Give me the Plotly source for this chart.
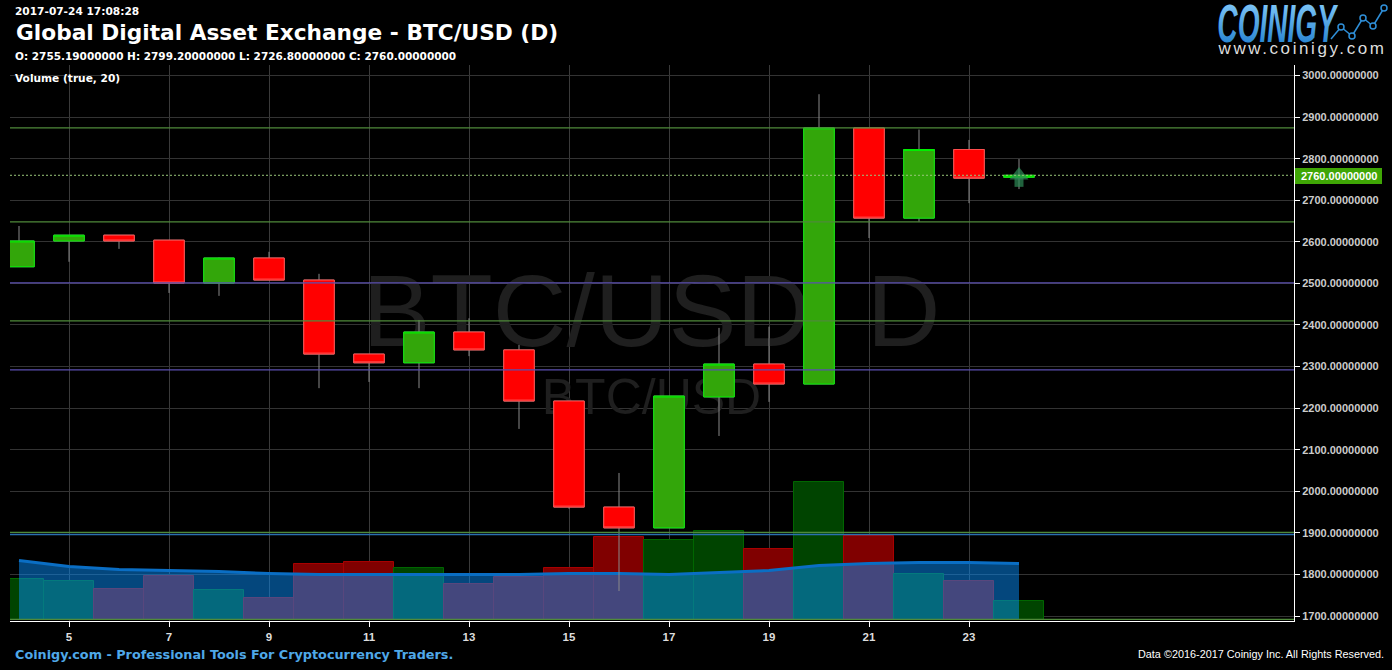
import plotly.graph_objects as go

days = list(range(4, 25))
opens = [2540, 2602, 2616, 2604, 2501, 2561, 2508, 2330, 2309, 2383, 2340, 2217, 1962, 1912, 2227, 2306, 2258, 2874, 2657, 2822, 2755.19]
closes = [2602, 2616, 2602, 2501, 2561, 2508, 2330, 2309, 2383, 2340, 2217, 1962, 1912, 2229, 2306, 2258, 2874, 2657, 2822, 2753, 2760.0]
highs = [2638, 2616, 2616, 2604, 2562, 2576, 2523, 2330, 2412, 2416, 2352, 2217, 2044, 2229, 2393, 2396, 2955, 2874, 2870, 2845, 2799.2]
lows = [2540, 2552, 2583, 2477, 2470, 2508, 2248, 2263, 2248, 2325, 2150, 1958, 1760, 1912, 2133, 2215, 2258, 2609, 2648, 2693, 2726.8]
volumes = [41, 39, 31, 44, 30, 22, 56, 58, 52, 36, 43, 52, 83, 80, 89, 71, 138, 84, 46, 39, 19]
volume_ma = [59, 53, 50, 49, 48, 46, 45, 45, 45, 45, 45, 46, 46, 45, 47, 49, 54, 56, 57, 57, 56]
green_levels = [2874, 2648, 2410, 1901, 1692]
purple_levels = [2501, 2292]
blue_levels = [1896]
last_price = 2760.0
x_ticks = list(range(5, 24, 2))
y_ticks = list(range(1700, 3001, 100))

W, H = 1392, 670
L, R, T, B = 10, 98, 65, 49
PW, PH = W - L - R, H - T - B
def px(x): return (x - L) / PW
def py(y): return 1 - (y - T) / PH

GREEN = "#33a60a"
RED = "#ff0000"
fig = go.Figure()

vol_colors = ["#004400" if c >= o else "#800000" for o, c in zip(opens, closes)]
vol_lines = ["#006600" if c >= o else "#a80000" for o, c in zip(opens, closes)]
fig.add_trace(go.Scatter(x=[16.65, 16.65], y=[299, 218], mode="text", text=["BTC/USD  D", "BTC/USD"],
    textfont=dict(family="Liberation Sans", size=[102, 50], color="#1f1f1f"), hoverinfo="skip", showlegend=False,
    textposition="middle center", yaxis="y", xaxis="x"))
fig.add_trace(go.Bar(x=days, y=volumes, width=1.0, marker=dict(color=vol_colors, line=dict(color=vol_lines, width=1)),
    showlegend=False, yaxis="y"))
fig.add_trace(go.Scatter(x=days, y=volume_ma, mode="lines", line=dict(color="#0a6ec4", width=3),
    fill="tozeroy", fillcolor="rgba(8,142,250,0.5)", showlegend=False, yaxis="y"))

wick = "#8a8a8a"
fig.add_trace(go.Candlestick(x=days, open=opens, high=highs, low=lows, close=closes,
    increasing=dict(line=dict(color=wick, width=1), fillcolor=wick),
    decreasing=dict(line=dict(color=wick, width=1), fillcolor=wick),
    whiskerwidth=0, showlegend=False, yaxis="y2"))
fig.add_trace(go.Candlestick(x=days, open=opens, close=closes,
    high=[max(o, c) for o, c in zip(opens, closes)], low=[min(o, c) for o, c in zip(opens, closes)],
    increasing=dict(line=dict(color="#00ee00", width=1), fillcolor=GREEN),
    decreasing=dict(line=dict(color="#ff4d4d", width=1), fillcolor=RED),
    whiskerwidth=0, showlegend=False, yaxis="y2"))

fig.add_trace(go.Scatter(x=[24, 24], y=[last_price - 17, last_price], mode="markers", showlegend=False,
    marker=dict(symbol=["square", "triangle-up"], size=[9, 16.5], color="#2e8b57", line=dict(width=0)),
    yaxis="y2", hoverinfo="skip"))

shapes = []
for lv, col in [(v, "#4f8a3a") for v in green_levels] + [(v, "#5b4fb0") for v in purple_levels] + [(v, "#2a6fb0") for v in blue_levels]:
    shapes.append(dict(type="line", xref="paper", yref="y2", x0=0, x1=1, y0=lv, y1=lv, line=dict(color=col, width=1.3), layer="above"))
shapes.append(dict(type="line", xref="paper", yref="y2", x0=0, x1=1, y0=last_price, y1=last_price,
                   line=dict(color="#9ac77a", width=1, dash="2px,2px"), layer="above"))

logo_pts = [(1331, 39), (1341, 27), (1352, 36), (1363, 18), (1373, 26), (1384, 8)]
for (a, b), (c, d) in zip(logo_pts[:-1], logo_pts[1:]):
    shapes.append(dict(type="line", xref="paper", yref="paper", x0=px(a), y0=py(b), x1=px(c), y1=py(d),
                       line=dict(color="#2f8fd8", width=1.5)))
for a, b in logo_pts[1:]:
    shapes.append(dict(type="circle", xref="paper", yref="paper", x0=px(a-3), x1=px(a+3), y0=py(b-3), y1=py(b+3),
                       line=dict(color="#2f8fd8", width=1.5), fillcolor="#000000"))

def note(x, y, text, size, color="#ffffff", family="DejaVu Sans", bold=True, xanchor="left", italic=False):
    t = f"<b>{text}</b>" if bold else text
    if italic: t = f"<i>{t}</i>"
    return dict(xref="paper", yref="paper", x=px(x), y=py(y), text=t, showarrow=False, xanchor=xanchor, yanchor="middle",
                font=dict(family=family, size=size, color=color), borderpad=0, borderwidth=0)

annotations = [
    note(15, 11, "2017-07-24 17:08:28", 10.6),
    note(15.5, 33, "Global Digital Asset Exchange - BTC/USD (D)", 21.7),
    note(15, 56, "O: 2755.19000000 H: 2799.20000000 L: 2726.80000000 C: 2760.00000000", 10.5),
    note(15, 78, "Volume (true, 20)", 10.6),
    note(1277.5, 23, "COINIGY", 53, color="#4aa9ee", family="Liberation Sans", italic=True, xanchor="center"),
    note(1302, 49, "www.coinigy.com", 17, color="#dddddd", family="Liberation Sans", bold=False, xanchor="center"),
    note(15, 654, "Coinigy.com - Professional Tools For Cryptocurrency Traders.", 12.8, color="#4fa8e8"),
    note(1384, 654, "Data ©2016-2017 Coinigy Inc. All Rights Reserved.", 10.85, family="Liberation Sans", bold=False, xanchor="right"),
    note(1338.5, 176, "2760.00000000", 11, family="Liberation Sans", xanchor="center"),
]
shapes.append(dict(type="rect", xref="paper", yref="paper", x0=px(1294), x1=px(1382), y0=py(168), y1=py(184),
                   fillcolor="#3fa605", line=dict(width=0), layer="below"))

fig.update_layout(
    width=W, height=H, autosize=False, margin=dict(l=L, r=R, t=T, b=B, pad=0),
    paper_bgcolor="#000000", plot_bgcolor="#000000", showlegend=False, bargap=0,
    boxgap=0.39, boxgroupgap=0, hovermode=False,
    shapes=shapes, annotations=annotations,
    xaxis=dict(range=[3.82, 29.5], tickvals=x_ticks, ticktext=[str(v) for v in x_ticks], ticks="outside", ticklen=5,
               tickcolor="#ffffff", showline=True, linecolor="#ffffff", linewidth=1, showgrid=True, gridcolor="#3a3a3a",
               gridwidth=1, zeroline=False, rangeslider=dict(visible=False), automargin=False,
               tickfont=dict(family="Liberation Sans", size=11.5, color="#dddddd", weight=700), tickangle=0),
    yaxis=dict(range=[-1.5, 554.5], visible=False, showgrid=False, zeroline=False, fixedrange=True, automargin=False),
    yaxis2=dict(range=[1688, 3025.25], overlaying="y", side="right", tickvals=y_ticks, tickformat=".8f", ticks="outside",
                ticklen=5, tickcolor="#ffffff", showline=True, linecolor="#ffffff", linewidth=1, showgrid=True,
                gridcolor="#333333", gridwidth=1, zeroline=False, automargin=False,
                tickfont=dict(family="Liberation Sans", size=11, color="#cccccc", weight=700)),
)

post = """
document.body.style.margin='0';document.body.style.background='#000';document.body.style.overflow='hidden';
document.documentElement.style.overflow='hidden';
var svg=document.querySelector('.infolayer').ownerSVGElement;
var defs=document.createElementNS('http://www.w3.org/2000/svg','defs');
defs.innerHTML='<linearGradient id="logoG" x1="0" y1="0" x2="0" y2="1"><stop offset="0" stop-color="#8fd2ff"/><stop offset="1" stop-color="#1577c8"/></linearGradient>';
svg.appendChild(defs);
document.querySelectorAll('.annotation').forEach(function(a){
  var t=a.querySelector('text');if(!t)return;
  if(t.textContent==='COINIGY'){
    var g=a.querySelector('.annotation-text-g');
    g.setAttribute('transform','translate(1277.5 23) scale(0.53 1) translate(-1277.5 -23)');
    t.style.fill='url(#logoG)';
  }
  if(t.textContent==='www.coinigy.com'){t.style.letterSpacing='2.6px';}
});
"""
fig.write_html("out.html", config=dict(displayModeBar=False, responsive=False), post_script=post)
